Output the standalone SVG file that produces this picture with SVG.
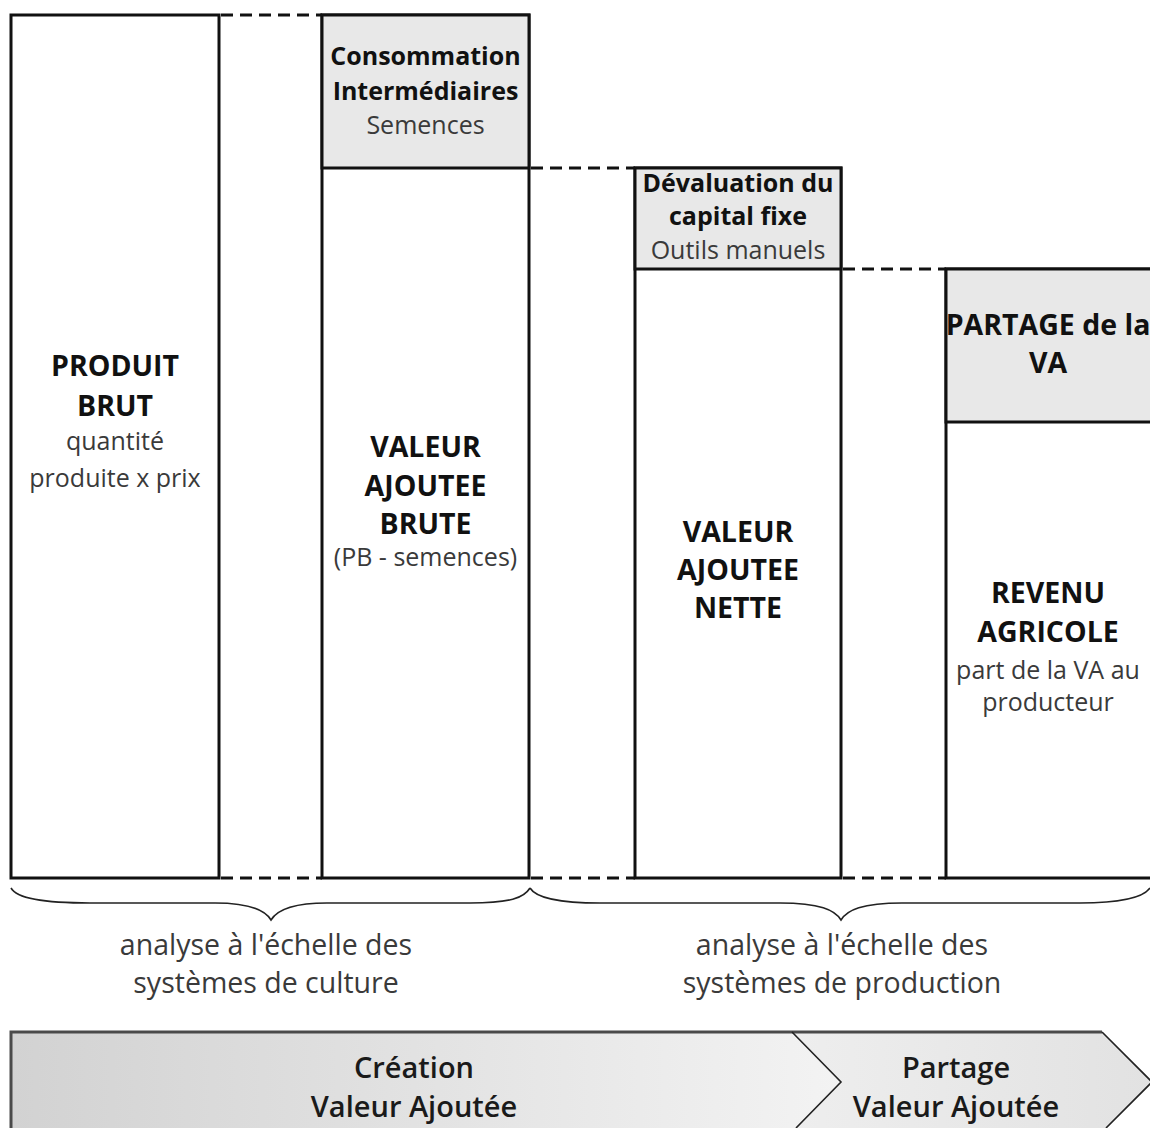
<svg xmlns="http://www.w3.org/2000/svg" width="1150" height="1128" viewBox="0 0 1150 1128">
<style>
.box{fill:#fff;stroke:#111;stroke-width:3}
.hdr{fill:#e8e8e8;stroke:#111;stroke-width:3}
.dash{stroke:#111;stroke-width:3;stroke-dasharray:12 7;fill:none}
.brace{stroke:#222;stroke-width:1.6;fill:none}
text{font-family:"Open Sans","Noto Sans","DejaVu Sans",sans-serif;text-anchor:middle}
.t{font-weight:700;font-size:28.5px;fill:#111}
.h{font-weight:700;font-size:25px;fill:#111}
.r{font-size:25px;fill:#3a3a3a}
.a{font-size:28.5px;fill:#3a3a3a}
.b{font-weight:600;font-size:29px;fill:#1a1a1a}
</style>
<defs>
<linearGradient id="g1" x1="0" y1="0" x2="1" y2="0">
<stop offset="0" stop-color="#d2d2d2"/>
<stop offset="1" stop-color="#f3f3f3"/>
</linearGradient>
<linearGradient id="g2" x1="0" y1="0" x2="1" y2="0">
<stop offset="0" stop-color="#eeeeee"/>
<stop offset="1" stop-color="#e2e2e2"/>
</linearGradient>
</defs>
<rect width="1150" height="1128" fill="#fff"/>

<g id="produit-brut">
<rect class="box" x="11" y="15" width="208" height="863"/>
<text class="t" x="115" y="376">PRODUIT</text>
<text class="t" x="115" y="416">BRUT</text>
<text class="r" x="115" y="450">quantité</text>
<text class="r" x="115" y="487">produite x prix</text>
</g>

<g id="valeur-ajoutee-brute">
<rect class="box" x="322" y="15" width="207" height="863"/>
<rect class="hdr" x="322" y="15" width="207" height="153"/>
<text class="h" x="425.5" y="65">Consommation</text>
<text class="h" x="425.5" y="100">Intermédiaires</text>
<text class="r" x="425.5" y="134">Semences</text>
<text class="t" x="425.5" y="457">VALEUR</text>
<text class="t" x="425.5" y="496">AJOUTEE</text>
<text class="t" x="425.5" y="534">BRUTE</text>
<text class="r" x="425.5" y="566">(PB - semences)</text>
</g>

<g id="valeur-ajoutee-nette">
<rect class="box" x="635" y="168" width="206" height="710"/>
<rect class="hdr" x="635" y="168" width="206" height="101"/>
<text class="h" x="738" y="192">Dévaluation du</text>
<text class="h" x="738" y="225">capital fixe</text>
<text class="r" x="738" y="259">Outils manuels</text>
<text class="t" x="738" y="542">VALEUR</text>
<text class="t" x="738" y="580">AJOUTEE</text>
<text class="t" x="738" y="618">NETTE</text>
</g>

<g id="revenu-agricole">
<rect class="box" x="946" y="269" width="220" height="609"/>
<rect class="hdr" x="946" y="269" width="220" height="153"/>
<text class="t" x="1048" y="335">PARTAGE de la</text>
<text class="t" x="1048" y="373">VA</text>
<text class="t" x="1048" y="603">REVENU</text>
<text class="t" x="1048" y="642">AGRICOLE</text>
<text class="r" x="1048" y="679">part de la VA au</text>
<text class="r" x="1048" y="711">producteur</text>
</g>

<g id="connectors">
<line class="dash" x1="221" y1="15" x2="322" y2="15"/>
<line class="dash" x1="531" y1="168" x2="635" y2="168"/>
<line class="dash" x1="843" y1="269" x2="946" y2="269"/>
<line class="dash" x1="221" y1="878" x2="322" y2="878"/>
<line class="dash" x1="531" y1="878" x2="635" y2="878"/>
<line class="dash" x1="843" y1="878" x2="946" y2="878"/>
</g>

<g id="brace-culture">
<path class="brace" d="M11 888 C17 899 45 903 90 903 L215 903 C250 903 265 910 271 920 C277 910 292 903 327 903 L470 903 C510 903 524 898 530 888"/>
<text class="a" x="266" y="955">analyse à l'échelle des</text>
<text class="a" x="266" y="993">systèmes de culture</text>
</g>

<g id="brace-production">
<path class="brace" d="M530 888 C536 898 560 903 600 903 L780 903 C820 903 835 910 841 920 C847 910 862 903 902 903 L1080 903 C1120 903 1143 898 1150 888"/>
<text class="a" x="842" y="955">analyse à l'échelle des</text>
<text class="a" x="842" y="993">systèmes de production</text>
</g>

<g id="creation-va">
<path d="M11 1128 L11 1032 L792 1032 L841 1082 L796 1128 Z" fill="url(#g1)"/>
<path d="M11 1129 L11 1032 L792 1032" fill="none" stroke="#4a4a4a" stroke-width="3"/>
<text class="b" x="414" y="1078">Création</text>
<text class="b" x="414" y="1117">Valeur Ajoutée</text>
</g>

<g id="partage-va">
<path d="M792 1032 L1102 1032 L1152 1082 L1106 1128 L796 1128 L841 1082 Z" fill="url(#g2)"/>
<path d="M792 1032 L1102 1032" fill="none" stroke="#4a4a4a" stroke-width="3"/>
<path d="M792 1032 L841 1082 L796 1128 M1102 1032 L1152 1082 L1106 1128" fill="none" stroke="#222" stroke-width="1.6"/>
<text class="b" x="956" y="1078">Partage</text>
<text class="b" x="956" y="1117">Valeur Ajoutée</text>
</g>
</svg>
